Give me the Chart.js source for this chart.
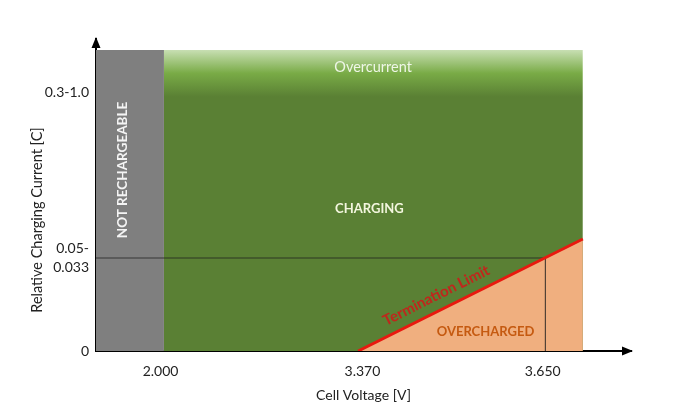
<!DOCTYPE html>
<html>
<head>
<meta charset="utf-8">
<script src="https://cdn.jsdelivr.net/npm/chart.js@4"></script>
<style>
  body { margin: 0; background: #fff; }
</style>
</head>
<body>
<canvas id="chart" width="690" height="419"></canvas>
<script>
// schematic units: x and y both run 0..100 along the axes
const xTickPos = [12.06, 49.8, 83.5];
const xTickLabels = ['2.000', '3.370', '3.650'];
const yTickPos = [0, 29.8, 83.0];
const yTickLabels = ['0', ['0.05-', '0.033'], '0.3-1.0'];

const zoneTop = 96.5;
const notRechargeableX = [0, 12.7];
const chargingX = [12.7, 91.0];
const terminationX = [49.0, 91.0];
const terminationY = [0, 35.9];
const thresholdX = 84.0;
const thresholdY = 29.8;

const zoneLabels = ['NOT RECHARGEABLE', 'Overcurrent', 'CHARGING', 'Termination Limit', 'OVERCHARGED'];

const FONT = 'Lato';

// where the zone labels go, in scale units
const labelSpots = [
  { x: 5.0, y: 58.0, rot: -Math.PI / 2, font: 'bold 13.5px ' + FONT, color: '#f4f4f4' },
  { x: 51.8, y: 91.0, rot: 0, font: '14.5px ' + FONT, color: '#eef6e6' },
  { x: 51.1, y: 45.5, rot: 0, font: 'bold 13px ' + FONT, color: '#f3f6de' },
  { x: 63.6, y: 17.8, rot: 'line', font: 'bold 15px ' + FONT, color: '#c0261c' },
  { x: 72.8, y: 6.1, rot: 0, font: 'bold 13px ' + FONT, color: '#c55a11' }
];

const greenFill = (ctx) => {
  const chart = ctx.chart;
  if (!chart.chartArea) return '#5a8034';
  const y = chart.scales.y;
  const g = chart.ctx.createLinearGradient(0, y.getPixelForValue(zoneTop), 0, y.getPixelForValue(zoneTop - 15));
  g.addColorStop(0, '#c8dfb3');
  g.addColorStop(0.5, '#79ab46');
  g.addColorStop(1, '#5a8034');
  return g;
};

const diagram = {
  id: 'diagram',
  afterDatasetsDraw(chart) {
    const { ctx, scales } = chart;
    const x = scales.x, y = scales.y;
    const ang = Math.atan2(
      y.getPixelForValue(terminationY[1]) - y.getPixelForValue(terminationY[0]),
      x.getPixelForValue(terminationX[1]) - x.getPixelForValue(terminationX[0]));
    ctx.save();
    ctx.textAlign = 'center';
    ctx.textBaseline = 'middle';
    zoneLabels.forEach((t, i) => {
      const s = labelSpots[i];
      ctx.save();
      ctx.translate(x.getPixelForValue(s.x), y.getPixelForValue(s.y));
      ctx.rotate(s.rot === 'line' ? ang : s.rot);
      ctx.font = s.font;
      ctx.fillStyle = s.color;
      ctx.fillText(t, 0, 0);
      ctx.restore();
    });
    ctx.restore();
  },
  afterDraw(chart) {
    const { ctx, chartArea: a, scales } = chart;
    ctx.save();
    ctx.fillStyle = '#000';
    ctx.beginPath();
    ctx.moveTo(a.left, a.top - 2);
    ctx.lineTo(a.left - 4.5, a.top + 9);
    ctx.lineTo(a.left + 4.5, a.top + 9);
    ctx.closePath();
    ctx.fill();
    ctx.beginPath();
    ctx.moveTo(a.right + 2, a.bottom);
    ctx.lineTo(a.right - 9, a.bottom - 4.5);
    ctx.lineTo(a.right - 9, a.bottom + 4.5);
    ctx.closePath();
    ctx.fill();
    // y axis title
    ctx.translate(37, scales.y.getPixelForValue(42.0));
    ctx.rotate(-Math.PI / 2);
    ctx.font = '14.5px ' + FONT;
    ctx.fillStyle = '#222';
    ctx.textAlign = 'center';
    ctx.textBaseline = 'middle';
    ctx.fillText('Relative Charging Current [C]', 0, 0);
    ctx.restore();
  }
};

new Chart(document.getElementById('chart'), {
  type: 'line',
  data: {
    datasets: [
      {
        data: terminationX.map((v, i) => ({ x: v, y: terminationY[i] })),
        borderColor: '#e8190f', borderWidth: 3, fill: false, pointRadius: 0
      },
      {
        data: [{ x: 0, y: thresholdY }, { x: thresholdX, y: thresholdY }, { x: thresholdX, y: 0 }],
        borderColor: 'rgba(30,30,30,0.75)', borderWidth: 1.2, fill: false, pointRadius: 0
      },
      {
        data: terminationX.map((v, i) => ({ x: v, y: terminationY[i] })),
        borderWidth: 0, borderColor: 'transparent', backgroundColor: '#f0af7f', fill: 'origin', pointRadius: 0
      },
      {
        data: chargingX.map(v => ({ x: v, y: zoneTop })),
        borderWidth: 0, borderColor: 'transparent', backgroundColor: greenFill, fill: 'origin', pointRadius: 0
      },
      {
        data: notRechargeableX.map(v => ({ x: v, y: zoneTop })),
        borderWidth: 0, borderColor: 'transparent', backgroundColor: '#7f7f7f', fill: 'origin', pointRadius: 0
      }
    ]
  },
  options: {
    responsive: false,
    animation: false,
    events: [],
    layout: { padding: { top: 39, right: 59, left: 0, bottom: 0 } },
    plugins: { legend: { display: false }, tooltip: { enabled: false } },
    scales: {
      x: {
        type: 'linear', min: 0, max: 100, z: 1,
        grid: { display: false, drawTicks: false },
        border: { display: true, color: '#000', width: 2 },
        afterBuildTicks: (s) => { s.ticks = xTickPos.map(v => ({ value: v })); },
        afterFit: (s) => { s.height = 68; },
        ticks: {
          padding: 12, maxRotation: 0, autoSkip: false,
          color: '#222', font: { family: FONT, size: 14 },
          callback: (v, i) => xTickLabels[i]
        },
        title: {
          display: true, text: 'Cell Voltage [V]', color: '#222',
          font: { family: FONT, size: 14 }, padding: { top: 0, bottom: 15 }
        }
      },
      y: {
        type: 'linear', min: 0, max: 100, z: 1,
        grid: { display: false, drawTicks: false },
        border: { display: true, color: '#000', width: 2 },
        afterBuildTicks: (s) => { s.ticks = yTickPos.map(v => ({ value: v })); },
        afterFit: (s) => { s.width = 96; },
        ticks: {
          padding: 7, autoSkip: false,
          color: '#222', font: { family: FONT, size: 14, lineHeight: 1.35 },
          callback: (v, i) => yTickLabels[i]
        }
      }
    }
  },
  plugins: [diagram]
});
</script>
</body>
</html>
